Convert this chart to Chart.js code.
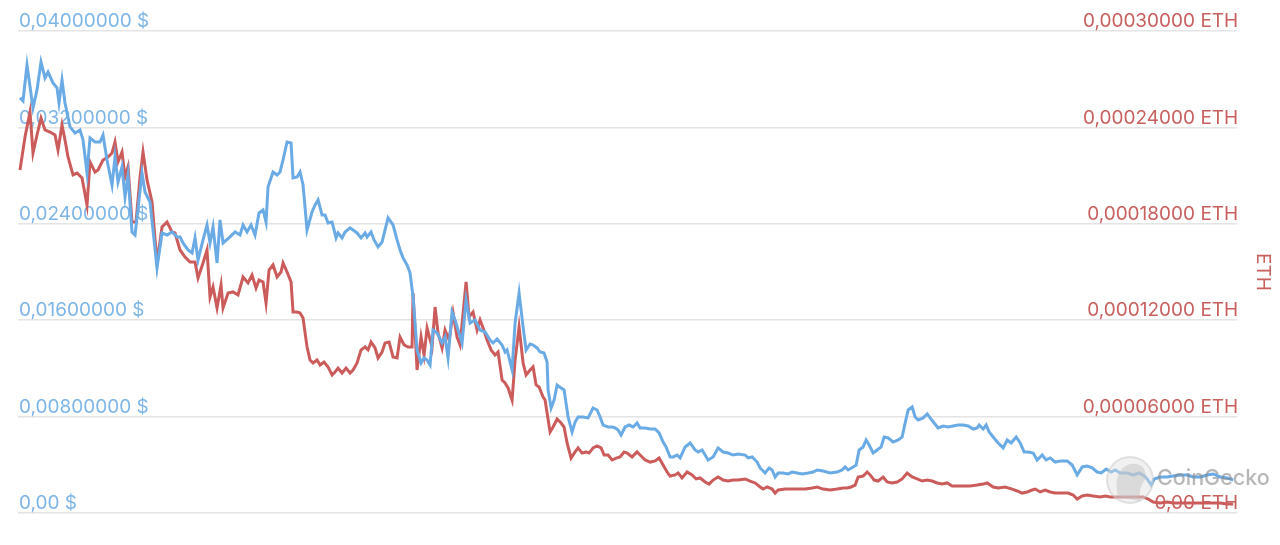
<!doctype html>
<html>
<head>
<title>Preis in USD und ETH</title>
<script src="https://cdn.jsdelivr.net/npm/chart.js@4.4.1/dist/chart.umd.min.js"></script>
<style>
body { margin: 0; background: #fff; font-family: Inter, Arial, sans-serif; }
#holder { width: 1280px; height: 545px; }
</style>
</head>
<body>
<div id="holder"><canvas id="chart-area"></canvas></div>
<script>
// days since start of the range, price in USD
var usdDays = [0.6,1.5,2.7,4.5,5.7,6.9,8.1,9.0,10.5,11.7,12.3,13.2,14.1,15.6,17.1,18.6,19.5,20.7,21.6,23.1,24.6,25.5,26.7,28.2,29.1,30.0,31.2,32.1,33.0,34.2,35.1,36.3,37.2,38.1,39.6,41.7,43.2,44.7,46.2,47.7,48.6,49.5,51.0,52.2,53.1,54.0,55.5,56.7,57.6,58.5,59.7,60.6,61.5,63.6,65.1,66.6,67.5,68.7,69.9,71.1,72.3,73.5,74.4,75.0,76.5,77.7,78.6,79.5,80.7,81.9,82.5,83.7,84.6,85.5,86.7,88.2,89.1,90.0,91.2,92.1,93.0,94.2,95.4,96.0,97.2,98.1,99.6,100.5,101.7,102.9,104.1,104.7,105.9,106.8,108.0,109.2,110.1,111.0,112.5,113.7,114.6,115.5,116.7,117.6,118.5,119.7,120.9,121.8,122.7,123.6,124.5,125.7,127.2,128.1,129.0,130.2,131.1,132.0,133.2,134.4,135.6,137.1,138.6,140.1,141.6,142.5,143.7,145.2,146.1,146.7,148.2,149.1,150.3,151.5,152.4,153.6,154.5,155.7,156.6,157.8,158.7,159.0,159.9,160.8,161.7,162.9,163.8,165.0,166.2,167.1,168.0,169.5,171.0,172.5,173.7,174.6,175.5,177.0,178.2,179.1,180.0,180.9,182.1,183.3,184.5,185.7,186.6,188.1,189.6,191.1,192.3,193.5,194.4,195.6,196.5,197.7,198.6,200.1,201.6,203.1,204.0,205.2,206.1,207.0,208.5,210.0,211.5,213.0,214.5,216.0,218.1,219.0,220.2,221.7,222.6,224.1,225.3,226.2,227.1,228.0,229.5,231.0,232.2,233.7,235.2,237.0,238.5,239.7,241.5,243.6,245.7,247.2,248.1,249.0,250.5,251.4,252.3,253.5,254.4,255.3,256.5,257.7,258.9,259.8,261.0,262.5,264.0,265.2,266.1,267.0,268.2,269.1,270.0,271.5,272.7,273.6,274.8,276.0,277.5,279.0,280.5,282.0,283.5,285.0,286.5,287.7,288.3,289.5,290.4,291.3,292.5,294.0,295.5,296.7,297.9,299.4,300.6,301.8,303.0,304.5,305.7,307.2,308.4,309.6,311.1,312.6,314.7,316.2,317.7,319.2,320.7,322.2,323.7,324.9,326.4,327.9,329.1,330.6,332.7,334.5,336.3,337.8,338.7,339.9,340.8,342.6,344.7,346.5,348.6,350.7,352.5,354.6,356.7,358.5,360.6,362.7,364.5];
var usdPrice = [0.03445,0.03420,0.03718,0.03362,0.03511,0.03743,0.03611,0.03660,0.03569,0.03528,0.03403,0.03594,0.03403,0.03204,0.03154,0.03179,0.03096,0.02822,0.03113,0.03079,0.03079,0.03137,0.02930,0.02722,0.02955,0.02747,0.02872,0.02623,0.02805,0.02332,0.02307,0.02598,0.02822,0.02664,0.02581,0.02034,0.02324,0.02307,0.02332,0.02291,0.02291,0.02241,0.02183,0.02158,0.02283,0.02100,0.02266,0.02390,0.02241,0.02374,0.02075,0.02432,0.02241,0.02291,0.02332,0.02307,0.02390,0.02332,0.02390,0.02307,0.02490,0.02515,0.02415,0.02706,0.02830,0.02805,0.02830,0.02930,0.03079,0.03071,0.02781,0.02789,0.02830,0.02722,0.02349,0.02498,0.02556,0.02598,0.02473,0.02473,0.02407,0.02415,0.02283,0.02324,0.02283,0.02332,0.02366,0.02349,0.02324,0.02283,0.02324,0.02291,0.02332,0.02266,0.02208,0.02249,0.02349,0.02449,0.02390,0.02266,0.02183,0.02117,0.02058,0.01992,0.01793,0.01353,0.01245,0.01287,0.01270,0.01228,0.01519,0.01494,0.01411,0.01461,0.01287,0.01668,0.01602,0.01519,0.01411,0.01768,0.01577,0.01602,0.01519,0.01502,0.01436,0.01411,0.01444,0.01394,0.01336,0.01353,0.01187,0.01577,0.01826,0.01544,0.01353,0.01403,0.01394,0.01370,0.01336,0.01328,0.01253,0.01021,0.00872,0.00938,0.01062,0.01038,0.01021,0.00797,0.00672,0.00755,0.00797,0.00797,0.00789,0.00872,0.00855,0.00797,0.00730,0.00714,0.00714,0.00706,0.00689,0.00647,0.00714,0.00730,0.00714,0.00747,0.00706,0.00706,0.00697,0.00697,0.00664,0.00589,0.00548,0.00465,0.00465,0.00481,0.00457,0.00548,0.00581,0.00523,0.00506,0.00523,0.00481,0.00440,0.00465,0.00540,0.00506,0.00498,0.00481,0.00490,0.00481,0.00457,0.00465,0.00423,0.00374,0.00332,0.00374,0.00357,0.00299,0.00332,0.00332,0.00324,0.00340,0.00332,0.00324,0.00332,0.00340,0.00357,0.00349,0.00332,0.00340,0.00357,0.00382,0.00357,0.00382,0.00398,0.00523,0.00548,0.00606,0.00564,0.00498,0.00523,0.00548,0.00631,0.00623,0.00589,0.00606,0.00631,0.00747,0.00855,0.00880,0.00797,0.00772,0.00789,0.00822,0.00789,0.00747,0.00706,0.00722,0.00714,0.00722,0.00730,0.00730,0.00722,0.00697,0.00706,0.00730,0.00697,0.00730,0.00672,0.00631,0.00581,0.00540,0.00606,0.00581,0.00631,0.00581,0.00506,0.00506,0.00498,0.00440,0.00481,0.00440,0.00457,0.00423,0.00432,0.00432,0.00398,0.00315,0.00382,0.00390,0.00374,0.00340,0.00332,0.00365,0.00340,0.00357,0.00332,0.00332,0.00315,0.00332,0.00307,0.00282,0.00232,0.00282,0.00299,0.00299,0.00307,0.00315,0.00315,0.00299,0.00299,0.00315,0.00324,0.00299,0.00290,0.00274];

// days since start of the range, price in ETH
var ethDays = [0.6,2.1,3.6,4.5,5.7,6.9,8.1,9.6,11.1,12.0,13.2,14.1,15.0,16.5,17.7,19.2,20.7,21.6,23.1,24.0,25.5,27.0,28.2,29.1,30.0,31.2,32.1,33.0,34.2,35.4,36.6,37.5,38.7,40.2,41.7,43.2,44.7,46.2,47.1,48.6,50.1,51.6,53.1,54.0,55.5,56.7,57.6,58.5,59.7,60.9,61.5,63.0,64.5,66.0,67.5,69.0,70.2,71.4,72.3,73.5,74.4,75.3,76.5,77.7,78.9,79.5,80.7,81.9,82.5,83.7,84.6,85.5,86.7,87.6,88.5,89.7,90.6,91.8,93.0,94.2,95.1,96.0,97.2,98.4,99.6,100.5,101.7,102.9,104.1,105.0,105.9,107.1,108.0,109.2,110.1,111.3,112.5,113.7,114.6,115.8,117.0,118.2,118.5,119.7,120.9,121.8,122.7,124.2,125.1,126.0,127.2,128.1,129.3,130.5,131.7,132.6,134.4,135.3,136.5,137.7,138.6,139.5,140.7,141.9,143.1,144.0,145.2,146.1,147.0,148.2,149.1,150.3,151.5,152.4,153.6,154.5,155.4,156.3,157.5,158.1,158.7,159.6,160.5,161.7,162.9,163.8,164.7,165.9,167.1,168.0,169.2,170.4,171.3,172.5,173.7,174.9,175.8,177.0,178.2,179.4,180.6,181.8,182.7,184.2,185.7,186.6,188.1,189.6,191.1,192.3,193.5,194.7,195.6,197.1,198.0,199.2,200.7,202.2,203.4,204.6,206.1,207.3,208.5,210.0,211.5,213.0,214.5,216.0,218.1,219.6,221.1,222.6,223.5,224.7,226.2,227.1,228.0,230.1,232.2,234.0,236.1,238.2,239.7,241.5,243.6,245.7,247.5,248.7,249.9,251.1,252.0,253.5,254.7,255.6,256.8,258.0,259.5,260.7,262.2,263.7,265.2,266.7,268.2,269.7,271.2,272.7,274.2,275.7,277.2,278.7,280.2,281.7,283.5,285.6,287.7,289.5,290.7,292.5,294.0,296.1,298.2,299.7,301.2,302.7,304.2,305.1,306.6,308.1,309.6,311.1,313.2,315.0,316.5,317.7,319.2,320.7,322.5,324.6,326.1,327.6,329.7,331.5,333.6,335.7,337.5,339.0,340.5,342.6,344.7,346.5,348.6,350.7,352.5,354.6,356.7,358.5,360.6,362.7,364.5];
var ethPrice = [0.0002135,0.0002340,0.0002496,0.0002241,0.0002353,0.0002458,0.0002384,0.0002371,0.0002353,0.0002259,0.0002415,0.0002322,0.0002216,0.0002104,0.0002116,0.0002085,0.0001917,0.0002185,0.0002122,0.0002135,0.0002197,0.0002216,0.0002241,0.0002309,0.0002185,0.0002247,0.0002091,0.0002154,0.0001811,0.0001811,0.0002091,0.0002247,0.0002073,0.0001936,0.0001556,0.0001780,0.0001811,0.0001749,0.0001743,0.0001637,0.0001593,0.0001562,0.0001562,0.0001463,0.0001556,0.0001637,0.0001344,0.0001407,0.0001276,0.0001419,0.0001276,0.0001369,0.0001376,0.0001357,0.0001469,0.0001432,0.0001481,0.0001400,0.0001450,0.0001438,0.0001307,0.0001512,0.0001544,0.0001469,0.0001500,0.0001556,0.0001500,0.0001438,0.0001251,0.0001251,0.0001245,0.0001214,0.0001033,0.0000952,0.0000934,0.0000952,0.0000921,0.0000940,0.0000909,0.0000859,0.0000878,0.0000902,0.0000871,0.0000902,0.0000871,0.0000890,0.0000934,0.0001015,0.0001033,0.0001015,0.0001064,0.0001027,0.0000965,0.0001002,0.0001058,0.0001064,0.0000971,0.0000965,0.0001095,0.0001046,0.0001033,0.0001033,0.0001369,0.0000890,0.0001095,0.0000983,0.0001151,0.0001033,0.0001282,0.0001120,0.0001027,0.0001139,0.0001077,0.0001245,0.0001095,0.0001046,0.0001438,0.0001220,0.0001251,0.0001139,0.0001201,0.0001151,0.0001077,0.0001015,0.0000983,0.0001002,0.0000828,0.0000809,0.0000778,0.0000703,0.0000952,0.0001158,0.0000934,0.0000859,0.0000890,0.0000909,0.0000797,0.0000784,0.0000722,0.0000703,0.0000622,0.0000504,0.0000535,0.0000585,0.0000560,0.0000535,0.0000436,0.0000342,0.0000380,0.0000405,0.0000373,0.0000380,0.0000373,0.0000405,0.0000417,0.0000405,0.0000361,0.0000361,0.0000330,0.0000342,0.0000349,0.0000380,0.0000373,0.0000349,0.0000380,0.0000361,0.0000330,0.0000317,0.0000324,0.0000342,0.0000299,0.0000255,0.0000230,0.0000237,0.0000249,0.0000218,0.0000255,0.0000237,0.0000212,0.0000218,0.0000193,0.0000180,0.0000205,0.0000224,0.0000205,0.0000199,0.0000205,0.0000205,0.0000212,0.0000199,0.0000187,0.0000162,0.0000149,0.0000162,0.0000149,0.0000124,0.0000143,0.0000149,0.0000149,0.0000149,0.0000149,0.0000156,0.0000162,0.0000149,0.0000143,0.0000149,0.0000156,0.0000156,0.0000162,0.0000174,0.0000224,0.0000230,0.0000255,0.0000237,0.0000205,0.0000199,0.0000224,0.0000193,0.0000187,0.0000193,0.0000212,0.0000249,0.0000224,0.0000212,0.0000199,0.0000205,0.0000199,0.0000187,0.0000180,0.0000187,0.0000168,0.0000168,0.0000168,0.0000168,0.0000174,0.0000180,0.0000187,0.0000162,0.0000156,0.0000162,0.0000149,0.0000137,0.0000124,0.0000131,0.0000143,0.0000149,0.0000131,0.0000143,0.0000131,0.0000124,0.0000124,0.0000124,0.0000112,0.0000087,0.0000106,0.0000112,0.0000106,0.0000100,0.0000106,0.0000100,0.0000100,0.0000100,0.0000100,0.0000100,0.0000100,0.0000087,0.0000068,0.0000062,0.0000068,0.0000062,0.0000062,0.0000062,0.0000062,0.0000062,0.0000062,0.0000062,0.0000062,0.0000056,0.0000056];

// axis ticks
var usdMax = 0.04, usdStep = 0.008;
var ethMax = 0.0003, ethStep = 0.00006;

function pairs(xs, ys) {
    return xs.map(function (x, i) { return { x: x, y: ys[i] }; });
}
function fmt(v, unit) {
    if (Math.abs(v) < 1e-12) return '0,00 ' + unit;
    return v.toFixed(8).replace('.', ',') + ' ' + unit;
}

// faded CoinGecko watermark, bottom right
var watermark = {
    id: 'watermark',
    afterDatasetsDraw: function (chart) {
        var ctx = chart.ctx;
        ctx.save();
        ctx.beginPath();
        ctx.arc(1130, 480, 23, 0, Math.PI * 2);
        ctx.fillStyle = 'rgba(225,225,225,0.45)';
        ctx.fill();
        ctx.lineWidth = 2;
        ctx.strokeStyle = 'rgba(200,200,200,0.5)';
        ctx.stroke();
        ctx.beginPath();
        ctx.moveTo(1118, 497);
        ctx.quadraticCurveTo(1112, 470, 1130, 464);
        ctx.quadraticCurveTo(1146, 462, 1146, 478);
        ctx.quadraticCurveTo(1138, 488, 1140, 501);
        ctx.closePath();
        ctx.fillStyle = 'rgba(190,190,190,0.45)';
        ctx.fill();
        ctx.font = '500 21.5px Inter, Arial, sans-serif';
        ctx.fillStyle = 'rgba(135,135,135,0.6)';
        ctx.textBaseline = 'middle';
        ctx.fillText('CoinGecko', 1157, 479);
        ctx.restore();
    }
};

var config = {
    type: 'line',
    data: {
        datasets: [{
            label: 'USD',
            data: pairs(usdDays, usdPrice),
            borderColor: '#6aabe6',
            borderWidth: 3,
            pointRadius: 0,
            tension: 0,
            yAxisID: 'usd'
        }, {
            label: 'ETH',
            data: pairs(ethDays, ethPrice),
            borderColor: '#cc5c5b',
            borderWidth: 3,
            pointRadius: 0,
            tension: 0,
            yAxisID: 'eth'
        }]
    },
    options: {
        responsive: true,
        maintainAspectRatio: false,
        animation: false,
        layout: { padding: { left: 16, right: 2, top: 31, bottom: 32 } },
        plugins: {
            legend: { display: false },
            tooltip: { enabled: false }
        },
        scales: {
            x: {
                type: 'linear',
                min: 0,
                max: 365.7,
                display: false
            },
            usd: {
                position: 'left',
                min: 0,
                max: usdMax,
                border: { display: false },
                grid: { color: '#e4e4e4', lineWidth: 1.5, drawTicks: false },
                ticks: {
                    stepSize: usdStep,
                    mirror: true,
                    padding: 1,
                    labelOffset: -9.5,
                    color: '#7db5e6',
                    font: { family: 'Inter', size: 19 },
                    callback: function (v) { return fmt(v, '$'); }
                }
            },
            eth: {
                position: 'right',
                min: 0,
                max: ethMax,
                border: { display: false },
                grid: { display: false, drawTicks: false },
                title: {
                    display: true,
                    text: 'ETH',
                    color: '#c8605e',
                    padding: { top: 4, bottom: 12 },
                    font: { family: 'Inter', size: 19 }
                },
                ticks: {
                    stepSize: ethStep,
                    mirror: true,
                    padding: 1,
                    labelOffset: -9.5,
                    color: '#c8605e',
                    font: { family: 'Inter', size: 19 },
                    callback: function (v) { return fmt(v, 'ETH'); }
                }
            }
        }
    },
    plugins: [watermark]
};

window.onload = function () {
    var ctx = document.getElementById('chart-area').getContext('2d');
    window.myChart = new Chart(ctx, config);
};
</script>
</body>
</html>
